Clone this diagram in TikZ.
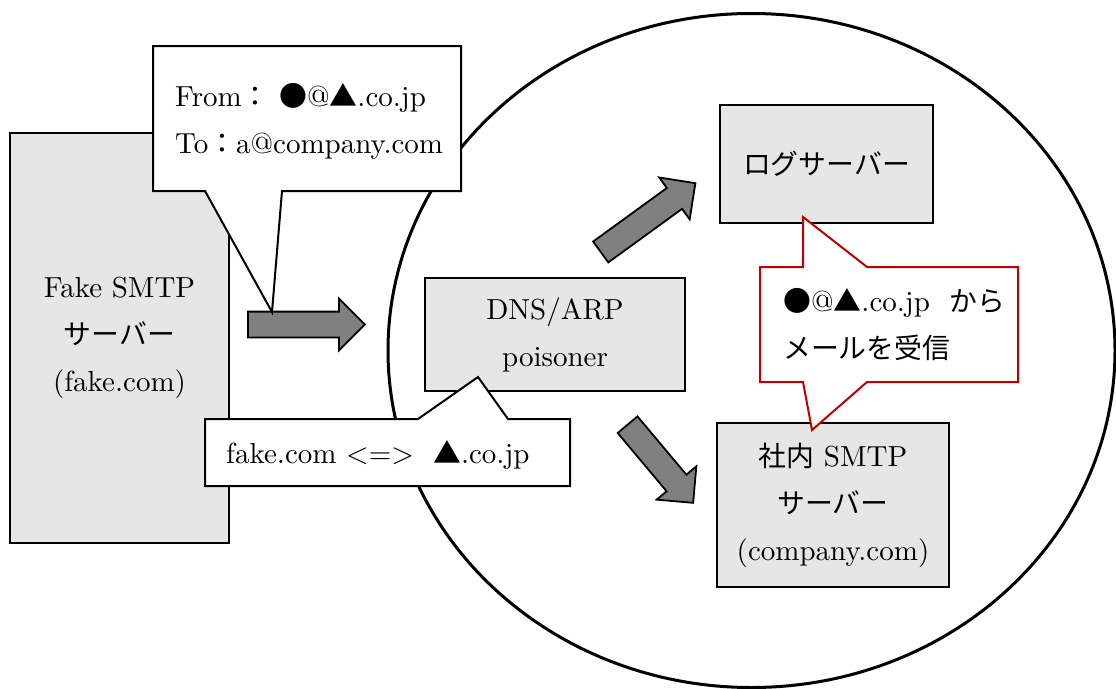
\documentclass[tikz,border=0pt]{standalone}
\usepackage{fontspec}
\setmainfont{lmroman10-regular.otf}
\newfontfamily\jp[Scale=0.96]{Noto Sans CJK JP}
\usepackage{xcolor}
\usetikzlibrary{shapes.geometric, shapes.arrows}
\definecolor{boxgray}{HTML}{E6E6E6}
\definecolor{arrowgray}{HTML}{808080}
\definecolor{alertred}{HTML}{C00000}

\begin{document}
\begin{tikzpicture}[
  x=1pt, y=-1pt,
  every node/.style={font=\fontsize{29}{47}\selectfont},
  zone/.style={draw, ellipse, line width=3pt, inner sep=0pt},
  server/.style={draw, line width=2pt, fill=boxgray, inner sep=0pt, align=center},
  bigarrow/.style={draw, line width=1.8pt, fill=arrowgray, single arrow,
                   inner sep=0pt, inner ysep=12pt, single arrow head extend=13pt,
                   single arrow tip angle=90, minimum height=117pt, anchor=tail},
  callout/.style={draw, line width=2pt, fill=white, line join=miter},
  redcallout/.style={callout, draw=alertred},
  note/.style={inner sep=0pt, anchor=west, align=left}
]
\useasboundingbox (0,0) rectangle (1116,688);

%% Nodes
\node[zone, minimum width=727pt, minimum height=674pt] (lan) at (751.5,350.5) {};
\node[server, minimum width=219pt, minimum height=410pt] (fake) at (119.5,338)
  {Fake SMTP\\{\jp サーバー}\\(fake.com)};
\node[server, minimum width=260pt, minimum height=113pt] (dns) at (555,334.5)
  {DNS/ARP\\poisoner};
\node[server, minimum width=213pt, minimum height=118pt] (log) at (826.5,164)
  {\jp ログサーバー};
\node[server, minimum width=232pt, minimum height=164pt] (smtp) at (833,505)
  {{\jp 社内} SMTP\\{\jp サーバー}\\(company.com)};

%% Arrows
\node[bigarrow] (send) at (247,324.5) {};
\node[bigarrow, rotate=36] (tolog) at (600,252.5) {};
\node[bigarrow, rotate=-50, minimum height=102pt] (tosmtp) at (627,424) {};

%% Callouts
\draw[callout] (153,46) -- (461,46) -- (461,191) -- (282,191) -- (272,312)
  -- (205,191) -- (153,191) -- cycle;
\node[note] (header) at (175,121)
  {From{\jp ：} {\jp ●}@{\jp ▲}.co.jp\\To{\jp ：}a@company.com};

\draw[callout] (205,419) -- (418,419) -- (478,377) -- (508,419) -- (570,419)
  -- (570,486) -- (205,486) -- cycle;
\node[note] (spoof) at (226,455) {fake.com <=> \ {\jp ▲}.co.jp};

\draw[redcallout] (760,267) -- (803,267) -- (803,217) -- (867,267) -- (1018,267)
  -- (1018,382) -- (867,382) -- (812,430) -- (803,382) -- (760,382) -- cycle;
\node[note] (recv) at (783,325)
  {{\jp ●}@{\jp ▲}.co.jp \ {\jp から}\\{\jp メールを受信}};

\end{tikzpicture}
\end{document}
